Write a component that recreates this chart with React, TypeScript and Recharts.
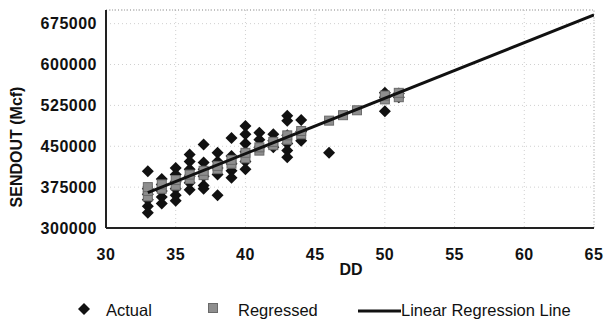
import React from 'react';
import { ScatterChart, Scatter, XAxis, YAxis, CartesianGrid, ReferenceLine } from 'recharts';

// DD vs SENDOUT
const actualDD = [
  33, 33, 33, 33, 33, 33,
  34, 34, 34, 34, 34,
  35, 35, 35, 35, 35, 35,
  36, 36, 36, 36, 36, 36,
  37, 37, 37, 37, 37, 37,
  38, 38, 38, 38, 38,
  39, 39, 39, 39, 39,
  40, 40, 40, 40, 40, 40,
  41, 41, 41,
  42, 42, 42,
  43, 43, 43, 43, 43, 43,
  44, 44, 44,
  46,
  50, 50, 50,
  51, 51,
];
const actualSendout = [
  404000, 372000, 362000, 352000, 340000, 328000,
  390000, 380000, 368000, 357000, 345000,
  410000, 398000, 385000, 372000, 360000, 350000,
  435000, 422000, 408000, 395000, 383000, 370000,
  453000, 420000, 408000, 395000, 378000, 372000,
  438000, 422000, 410000, 398000, 360000,
  465000, 432000, 418000, 405000, 392000,
  487000, 472000, 455000, 440000, 422000, 408000,
  475000, 462000, 448000,
  472000, 460000, 448000,
  506000, 497000, 470000, 455000, 442000, 430000,
  498000, 477000, 460000,
  438000,
  548000, 540000, 514000,
  547000, 540000,
];

const regressedDD = [33, 33, 33, 34, 34, 35, 35, 36, 36, 37, 37, 38, 38, 39, 39, 40, 40, 41, 41, 42, 42, 43, 43, 44, 44, 46, 47, 48, 50, 50, 51, 51];
const regressedSendout = [
  358000, 368000, 375000, 372000, 380000, 378000, 388000, 390000, 398000, 397000, 405000,
  408000, 414000, 418000, 425000, 428000, 438000, 442000, 448000, 452000, 458000,
  462000, 470000, 472000, 478000, 497000, 507000, 516000, 536000, 543000, 540000, 548000,
];

const lineDD = [33, 65];
const lineSendout = [365000, 691000];

const xTicks = [30, 35, 40, 45, 50, 55, 60, 65];
const yTicks = [300000, 375000, 450000, 525000, 600000, 675000];

const zip = (xs: number[], ys: number[]) => xs.map((x, i) => ({ dd: x, sendout: ys[i] }));
const actualData = zip(actualDD, actualSendout);
const regressedData = zip(regressedDD, regressedSendout);
const lineData = zip(lineDD, lineSendout);

const Diamond = (props: any) => {
  const { cx, cy } = props;
  if (cx == null || cy == null) return <g />;
  const r = 6;
  return <polygon points={`${cx},${cy - r} ${cx + r},${cy} ${cx},${cy + r} ${cx - r},${cy}`} fill="#111" />;
};

const Square = (props: any) => {
  const { cx, cy } = props;
  if (cx == null || cy == null) return <g />;
  return <rect x={cx - 4.5} y={cy - 4.5} width={9} height={9} fill="#8e8e8e" stroke="#6a6a6a" strokeWidth={1} />;
};

const NoDot = () => <g />;

const FONT = 'Liberation Sans, Arial, sans-serif';
const tickStyle = { fontFamily: FONT, fontSize: 16, fontWeight: 700, fill: '#111', letterSpacing: 0.5 };

const App: React.FC = () => {
  return (
    <div style={{ position: 'absolute', left: 0, top: 0, width: 605, height: 320, background: '#fff' }}>
      <ScatterChart width={605} height={320} margin={{ top: 10, right: 11, bottom: 62, left: 46 }}>
        <CartesianGrid stroke="#d0d0d0" strokeDasharray="1 3" />
        <XAxis
          type="number"
          dataKey="dd"
          domain={[30, 65]}
          ticks={xTicks}
          tick={tickStyle}
          tickLine={false}
          tickSize={0}
          tickMargin={21}
          height={30}
          axisLine={{ stroke: '#222', strokeWidth: 2 }}
          allowDataOverflow
        />
        <YAxis
          type="number"
          dataKey="sendout"
          domain={[300000, 700000]}
          ticks={yTicks}
          tick={tickStyle}
          tickLine={false}
          tickSize={0}
          tickMargin={9}
          width={60}
          axisLine={{ stroke: '#222', strokeWidth: 2 }}
          allowDataOverflow
        />
        <ReferenceLine y={700000} stroke="#999" strokeDasharray="1 2" />
        <ReferenceLine x={65} stroke="#bbb" strokeDasharray="1 2" />
        <Scatter data={actualData} shape={<Diamond />} isAnimationActive={false} />
        <Scatter data={regressedData} shape={<Square />} isAnimationActive={false} />
        <Scatter data={lineData} line={{ stroke: '#111', strokeWidth: 3 }} shape={<NoDot />} isAnimationActive={false} />
      </ScatterChart>
      <svg style={{ position: 'absolute', left: 0, top: 0, pointerEvents: 'none' }} width={605} height={320}>
        <text x={22} y={147} transform="rotate(-90 22 147)" textAnchor="middle" fontFamily={FONT} fontSize={16} fontWeight={700} fill="#111">
          SENDOUT (Mcf)
        </text>
        <text x={351} y={275} textAnchor="middle" fontFamily={FONT} fontSize={16} fontWeight={700} fill="#111">
          DD
        </text>
        <polygon points="84,303 90,309 84,315 78,309" fill="#111" />
        <text x={106} y={316} fontFamily={FONT} fontSize={16.5} fill="#111">Actual</text>
        <rect x={208.5} y={303.5} width={9} height={9} fill="#8e8e8e" stroke="#6a6a6a" />
        <text x={238} y={316} fontFamily={FONT} fontSize={16.5} fill="#111">Regressed</text>
        <line x1={358} y1={311} x2={401} y2={311} stroke="#111" strokeWidth={3} />
        <text x={401} y={316} fontFamily={FONT} fontSize={16.5} fill="#111">Linear Regression Line</text>
      </svg>
    </div>
  );
};

export default App;
